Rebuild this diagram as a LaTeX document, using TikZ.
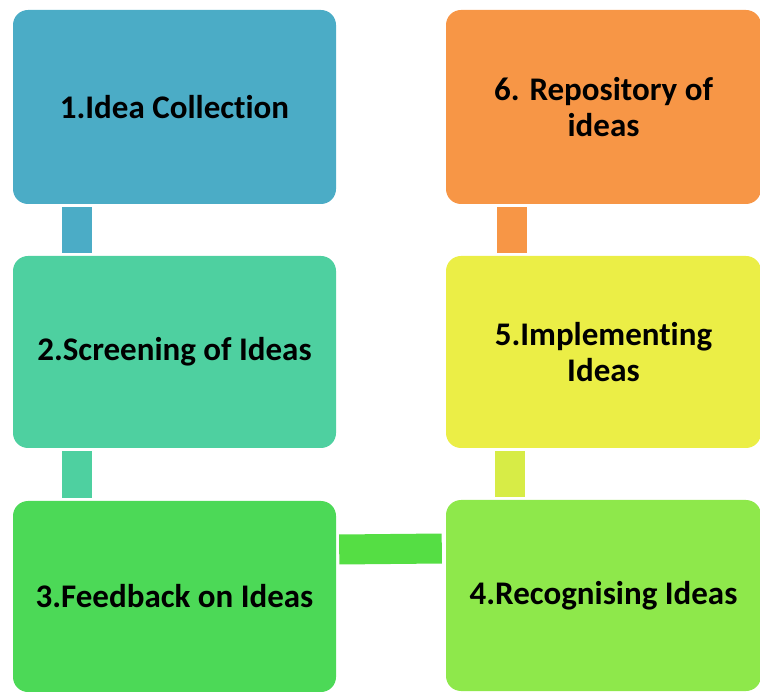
\documentclass[tikz,border=0pt]{standalone}
\usepackage{fontspec}
\setmainfont{Carlito}[Ligatures=NoCommon]
\usetikzlibrary{positioning}

\definecolor{ideablue}{RGB}{75,172,198}
\definecolor{ideamint}{RGB}{78,208,160}
\definecolor{ideagreen}{RGB}{76,217,87}
\definecolor{idealime}{RGB}{142,232,75}
\definecolor{ideayellow}{RGB}{235,238,70}
\definecolor{ideaorange}{RGB}{247,150,70}
\definecolor{linkgreen}{RGB}{85,222,68}
\definecolor{linkyellow}{RGB}{215,236,70}

\tikzset{
  stage/.style={rounded corners=15pt, inner sep=0pt, align=center,
    font=\fontsize{33}{36}\selectfont\bfseries, text=black},
  leftbox/.style={stage, minimum width=323pt},
  rightbox/.style={stage, minimum width=315pt},
  link/.style={line width=30pt}
}

\begin{document}
\begin{tikzpicture}[x=1pt,y=1pt]
  \useasboundingbox (0,0) rectangle (760,691);
    \node[leftbox, fill=ideablue, minimum height=194pt] (a) at (174.5,584) {1.Idea Collection};
    \node[leftbox, fill=ideamint, minimum height=192pt] (b) at (174.5,339) {2.Screening of Ideas};
    \node[leftbox, fill=ideagreen, minimum height=191pt] (c) at (174.5,94.5) {3.Feedback on Ideas};
    \node[rightbox, fill=idealime, minimum height=191pt] (d) at (603.5,95.5) {4.Recognising Ideas};
    \node[rightbox, fill=ideayellow, minimum height=192pt] (e) at (603.5,339) {5.Implementing\\Ideas};
    \node[rightbox, fill=ideaorange, minimum height=194pt] (f) at (603.5,584) {6. Repository of\\ideas};
  % connectors
  \draw[link, ideablue] ([xshift=-97.5pt,yshift=-3pt]a.south) -- ([xshift=-97.5pt,yshift=3pt]b.north);
  \draw[link, ideamint] ([xshift=-97.5pt,yshift=-3pt]b.south) -- ([xshift=-97.5pt,yshift=3pt]c.north);
  \draw[link, linkgreen] ([xshift=3pt,yshift=47pt]c.east) -- ([xshift=-4pt,yshift=47pt]d.west);
  \draw[link, linkyellow] ([xshift=-94pt,yshift=-3pt]e.south) -- ([xshift=-94pt,yshift=3pt]d.north);
  \draw[link, ideaorange] ([xshift=-92pt,yshift=-3pt]f.south) -- ([xshift=-92pt,yshift=3pt]e.north);
\end{tikzpicture}
\end{document}
